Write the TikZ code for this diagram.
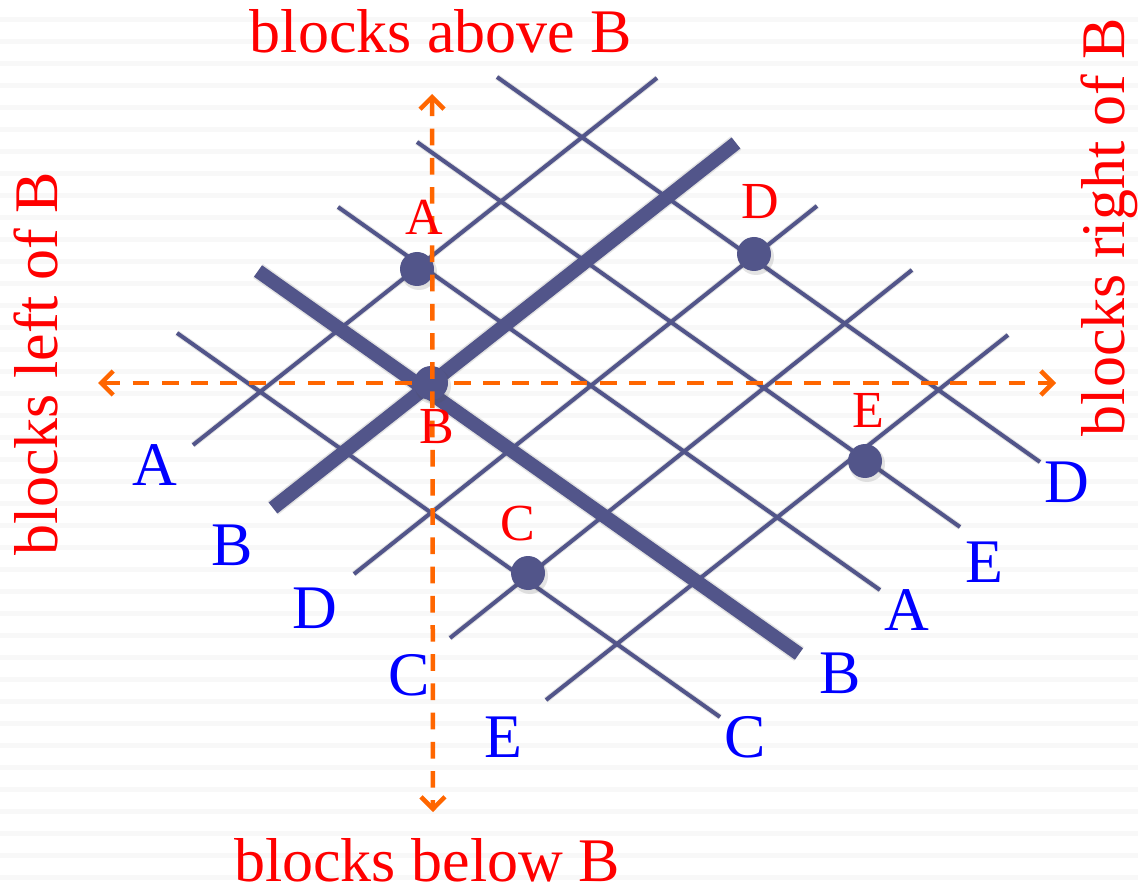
\documentclass[tikz,border=0pt]{standalone}
\usepackage{fontspec}
\setmainfont{Liberation Serif}
\usetikzlibrary{arrows.meta,calc}
\definecolor{lat}{RGB}{82,85,138}
\definecolor{org}{RGB}{255,102,0}
\definecolor{stripe}{RGB}{248,248,248}
\tikzset{barbtip/.tip={Straight Barb[length=12pt,width=24pt,line width=4.5pt]}}
\begin{document}
\begin{tikzpicture}[x=1pt,y=-1pt,
  thinline/.style={lat,line width=4pt},
  heavyline/.style={lat,line width=14pt},
  shade/.style={black!70,opacity=0.15,line width=#1},
  dot/.style={circle,fill=lat,minimum size=34pt,inner sep=0pt},
  dotshade/.style={circle,fill=black!70,opacity=0.15,minimum size=36pt,inner sep=0pt},
  blulbl/.style={text=blue,font=\fontsize{62}{62}\selectfont,anchor=base,inner sep=0pt},
  redlbl/.style={text=red,font=\fontsize{52}{52}\selectfont,anchor=base,inner sep=0pt},
  ttl/.style={text=red,font=\fontsize{62}{62}\selectfont,anchor=base,inner sep=0pt},
  orangedash/.style={org,line width=4.5pt,dash pattern=on 16.7pt off 12.5pt,barbtip-barbtip},
]
\useasboundingbox (0,0) rectangle (1138,890);
\fill[white] (0,0) rectangle (1138,890);
\begin{scope}
\clip (0,0) rectangle (1138,890);
\foreach \k in {0,...,40} \fill[stripe] (0,{-5.3+22*\k}) rectangle (1138,{0.4+22*\k});
\end{scope}

% line end points: "\" family
\coordinate (bsC1) at (177,333); \coordinate (bsC2) at (720,717);
\coordinate (bsB1) at (258,271); \coordinate (bsB2) at (799,654);
\coordinate (bsA1) at (338,207); \coordinate (bsA2) at (880,590);
\coordinate (bsE1) at (417,142); \coordinate (bsE2) at (960,527);
\coordinate (bsD1) at (497,77);  \coordinate (bsD2) at (1040,462);
% "/" family
\coordinate (fsA1) at (193,445); \coordinate (fsA2) at (657,78);
\coordinate (fsB1) at (273,508); \coordinate (fsB2) at (736,143);
\coordinate (fsD1) at (354,574); \coordinate (fsD2) at (817,206);
\coordinate (fsC1) at (450,638); \coordinate (fsC2) at (912,270);
\coordinate (fsE1) at (546,700); \coordinate (fsE2) at (1008,335);

% shadows
\begin{scope}[shift={(2.5,3.5)}]
\foreach \a in {bsC,bsA,bsE,bsD,fsA,fsD,fsC,fsE}
  \draw[shade=6pt] (\a1) -- (\a2);
\draw[shade=17pt] (bsB1) -- (bsB2);
\draw[shade=17pt] (fsB1) -- (fsB2);
\end{scope}

% lattice lines
\foreach \a in {bsC,bsA,bsE,bsD,fsA,fsD,fsC,fsE}
  \draw[thinline] (\a1) -- (\a2);
\draw[heavyline] (bsB1) -- (bsB2);
\draw[heavyline] (fsB1) -- (fsB2);

% arrow end points
\coordinate (up) at (432,94);
\coordinate (down) at (433,812);
\coordinate (left) at (98,383);
\coordinate (right) at (1056,383);

\draw[orangedash] (left) -- (right);

% dots (as placed in the figure)
\coordinate (xA) at (417,269);
\coordinate (xB) at (431,383);
\coordinate (xC) at (528,573);
\coordinate (xD) at (754,254);
\coordinate (xE) at (865,461);
\foreach \a in {A,B,C,D,E}
  \node[dotshade] at ($(x\a)+(2,3)$) {};
\foreach \a in {A,B,C,D,E}
  \node[dot] (d\a) at (x\a) {};

\draw[orangedash] (up) -- (down);

% red labels at dots
\node[redlbl] (rA) at (424,235) {A};
\node[redlbl] (rD) at (760,219) {D};
\node[redlbl] (rB) at (437,443) {B};
\node[redlbl] (rE) at (868,428) {E};
\node[redlbl] (rC) at (518,540) {C};

% blue line labels
\node[blulbl] (lA1) at (155,485) {A};
\node[blulbl] (lB1) at (232,565) {B};
\node[blulbl] (lD1) at (315,628) {D};
\node[blulbl] (lC1) at (409,695) {C};
\node[blulbl] (lE1) at (503,757) {E};
\node[blulbl] (lC2) at (745,757) {C};
\node[blulbl] (lB2) at (840,693) {B};
\node[blulbl] (lA2) at (907,630) {A};
\node[blulbl] (lE2) at (984,582) {E};
\node[blulbl] (lD2) at (1067,502) {D};

% titles
\node[ttl] (tUp) at (441,53) {blocks above B};
\node[ttl,text depth=0pt] (tDown) at (427,881) {blocks below B};
\node[ttl,rotate=90] (tLeft) at (57,364) {blocks left of B};
\node[ttl,rotate=90] (tRight) at (1124,227) {blocks right of B};
\end{tikzpicture}
\end{document}
